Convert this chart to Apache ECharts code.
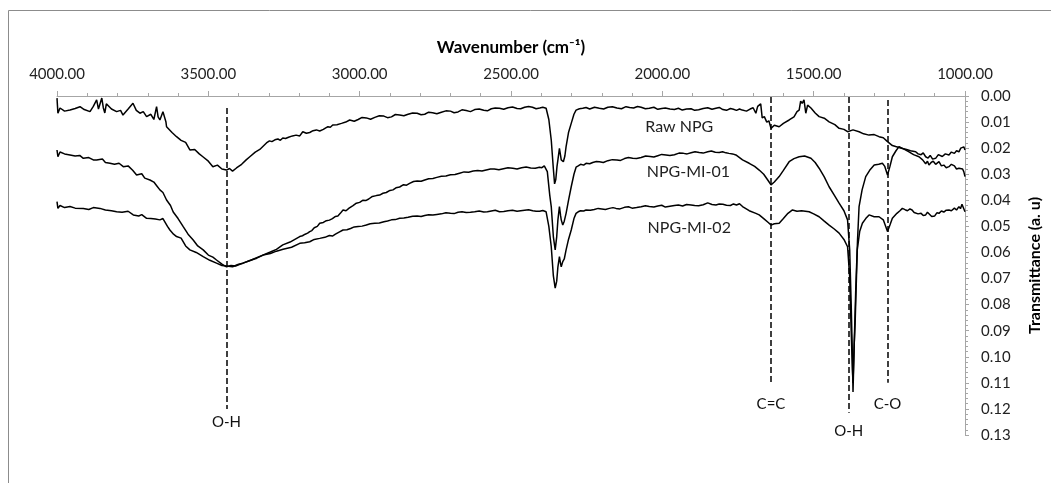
<!DOCTYPE html>
<html>
<head>
<meta charset="utf-8">
<script src="https://cdn.jsdelivr.net/npm/echarts@6/dist/echarts.min.js"></script>
<style>
  html, body { margin: 0; padding: 0; background: #fff; }
  #chart { width: 1051px; height: 483px; }
</style>
</head>
<body>
<div id="chart"></div>
<script>
// FTIR spectra, [wavenumber, transmittance]
var rawNPG = [
  [4000,0.0008],[3997,0.0066],[3990,0.0046],[3975,0.0058],[3957,0.0054],[3940,0.0048],[3924,0.0041],[3910,0.0052],
  [3891,0.0060],[3880,0.0040],[3869,0.0015],[3863,0.0050],[3858,0.0054],[3852,0.0008],[3847,0.0045],[3842,0.0065],
  [3837,0.0030],[3831,0.0027],[3820,0.0050],[3803,0.0060],[3790,0.0055],[3782,0.0073],[3765,0.0050],[3749,0.0028],
  [3738,0.0055],[3726,0.0066],[3715,0.0060],[3704,0.0079],[3690,0.0070],[3680,0.0090],[3671,0.0041],[3666,0.0080],
  [3660,0.0092],[3650,0.0060],[3644,0.0054],[3640,0.0100],[3638,0.0118],[3620,0.0140],[3605,0.0156],[3590,0.0170],
  [3575,0.0178],[3561,0.0207],[3545,0.0205],[3530,0.0222],[3518,0.0233],[3500,0.0250],[3485,0.0271],[3470,0.0265],
  [3455,0.0280],[3440,0.0284],[3430,0.0278],[3420,0.0288],[3407,0.0276],[3390,0.0262],[3375,0.0245],[3363,0.0233],
  [3345,0.0215],[3330,0.0205],[3308,0.0180],[3298,0.0172],[3290,0.0175],[3280,0.0168],[3270,0.0165],[3262,0.0170],
  [3254,0.0161],[3245,0.0163],[3235,0.0158],[3222,0.0153],[3210,0.0150],[3198,0.0153],[3188,0.0137],[3176,0.0143],
  [3165,0.0140],[3154,0.0133],[3143,0.0130],[3132,0.0134],[3120,0.0128],[3112,0.0122],[3105,0.0118],[3097,0.0120],
  [3089,0.0111],[3075,0.0110],[3060,0.0105],[3046,0.0100],[3033,0.0092],[3018,0.0097],[3005,0.0090],[2992,0.0082],
  [2978,0.0084],[2964,0.0089],[2950,0.0082],[2935,0.0076],[2920,0.0077],[2908,0.0083],[2895,0.0080],[2882,0.0071],
  [2868,0.0073],[2854,0.0076],[2840,0.0070],[2825,0.0065],[2810,0.0066],[2797,0.0072],[2785,0.0070],[2772,0.0062],
  [2759,0.0064],[2745,0.0068],[2730,0.0062],[2715,0.0057],[2700,0.0058],[2688,0.0064],[2675,0.0061],[2662,0.0053],
  [2648,0.0056],[2634,0.0060],[2620,0.0052],[2605,0.0050],[2590,0.0055],[2578,0.0057],[2565,0.0049],[2552,0.0046],
  [2538,0.0047],[2524,0.0051],[2510,0.0045],[2495,0.0042],[2480,0.0048],[2468,0.0049],[2455,0.0043],[2442,0.0040],
  [2429,0.0043],[2417,0.0049],[2405,0.0046],[2395,0.0043],[2384,0.0047],
  [2375,0.0090],[2367,0.0169],[2360,0.0280],[2356,0.0337],[2352,0.0320],[2348,0.0270],[2345,0.0245],[2340,0.0201],
  [2336,0.0230],[2334,0.0245],[2327,0.0252],[2322,0.0230],[2318,0.0194],[2310,0.0140],[2301,0.0105],[2292,0.0070],
  [2285,0.0054],[2274,0.0049],[2263,0.0047],[2252,0.0044],[2240,0.0050],[2224,0.0043],[2208,0.0047],[2194,0.0050],
  [2180,0.0043],[2165,0.0041],[2150,0.0046],[2135,0.0049],[2120,0.0041],[2108,0.0044],[2095,0.0046],[2082,0.0040],
  [2070,0.0043],[2056,0.0049],[2043,0.0047],[2028,0.0043],[2015,0.0051],[2002,0.0048],[1990,0.0046],[1975,0.0050],
  [1960,0.0052],[1947,0.0047],[1934,0.0054],[1920,0.0050],[1905,0.0049],[1893,0.0055],[1880,0.0053],[1865,0.0048],
  [1850,0.0045],[1836,0.0051],[1823,0.0047],[1812,0.0044],[1800,0.0052],[1788,0.0055],[1775,0.0048],[1765,0.0051],
  [1755,0.0055],[1745,0.0050],[1736,0.0054],[1722,0.0058],[1710,0.0050],[1700,0.0045],[1691,0.0066],
  [1685,0.0040],[1680,0.0046],[1675,0.0030],[1670,0.0084],[1663,0.0079],[1655,0.0100],[1648,0.0095],[1641,0.0124],
  [1630,0.0112],[1614,0.0118],[1600,0.0105],[1581,0.0092],[1565,0.0080],[1555,0.0060],[1548,0.0054],[1543,0.0020],
  [1538,0.0028],[1532,0.0015],[1526,0.0066],[1520,0.0035],[1509,0.0046],[1495,0.0065],[1482,0.0079],[1465,0.0085],
  [1449,0.0099],[1430,0.0110],[1416,0.0124],[1400,0.0128],[1388,0.0137],[1370,0.0130],[1350,0.0137],[1335,0.0145],
  [1317,0.0150],[1300,0.0148],[1284,0.0156],[1270,0.0160],[1256,0.0175],[1240,0.0190],[1229,0.0194],[1210,0.0200],
  [1196,0.0204],[1180,0.0210],[1163,0.0214],[1155,0.0222],[1145,0.0225],[1138,0.0218],[1130,0.0233],[1122,0.0238],
  [1115,0.0228],[1107,0.0242],[1097,0.0239],[1088,0.0225],[1075,0.0232],[1065,0.0222],[1053,0.0226],[1045,0.0215],
  [1035,0.0220],[1028,0.0210],[1020,0.0214],[1014,0.0200],[1008,0.0205],[1004,0.0195],[1000,0.0207]
];
var npgMI01 = [
  [4000,0.0207],[3997,0.0233],[3990,0.0215],[3975,0.0222],[3957,0.0226],[3940,0.0230],[3925,0.0228],[3913,0.0239],
  [3895,0.0236],[3880,0.0245],[3869,0.0245],[3850,0.0242],[3840,0.0255],[3825,0.0258],[3810,0.0262],[3795,0.0258],
  [3781,0.0271],[3765,0.0268],[3750,0.0285],[3737,0.0303],[3720,0.0298],[3710,0.0315],[3693,0.0322],[3680,0.0330],
  [3670,0.0345],[3660,0.0360],[3650,0.0370],[3638,0.0399],[3625,0.0420],[3616,0.0445],[3600,0.0470],[3583,0.0501],
  [3567,0.0530],[3550,0.0552],[3535,0.0575],[3517,0.0590],[3500,0.0610],[3485,0.0618],[3473,0.0629],[3455,0.0645],
  [3440,0.0655],[3425,0.0650],[3410,0.0652],[3386,0.0641],[3360,0.0630],[3340,0.0620],[3320,0.0610],[3295,0.0598],
  [3275,0.0588],[3254,0.0571],[3230,0.0560],[3198,0.0539],[3189,0.0536],[3180,0.0530],[3172,0.0526],[3165,0.0520],
  [3158,0.0516],[3150,0.0505],[3140,0.0500],[3132,0.0488],[3120,0.0485],[3110,0.0478],[3100,0.0476],[3090,0.0470],
  [3080,0.0462],[3072,0.0460],[3064,0.0450],[3055,0.0437],[3045,0.0440],[3035,0.0430],[3022,0.0420],[3011,0.0411],
  [3000,0.0408],[2990,0.0400],[2980,0.0401],[2970,0.0395],[2958,0.0385],[2945,0.0382],[2934,0.0380],[2923,0.0373],
  [2912,0.0370],[2900,0.0362],[2890,0.0360],[2880,0.0352],[2868,0.0349],[2855,0.0340],[2845,0.0342],[2835,0.0335],
  [2822,0.0328],[2810,0.0326],[2797,0.0327],[2785,0.0322],[2772,0.0317],[2758,0.0316],[2745,0.0312],[2730,0.0308],
  [2715,0.0307],[2700,0.0302],[2685,0.0301],[2670,0.0296],[2655,0.0291],[2640,0.0292],[2625,0.0288],[2610,0.0286],
  [2596,0.0288],[2582,0.0284],[2568,0.0280],[2555,0.0280],[2540,0.0283],[2525,0.0279],[2510,0.0275],[2494,0.0277],
  [2480,0.0280],[2465,0.0275],[2450,0.0272],[2435,0.0276],[2420,0.0277],[2406,0.0273],[2398,0.0275],[2390,0.0268],
  [2380,0.0290],[2372,0.0380],[2367,0.0424],[2360,0.0540],[2354,0.0590],[2349,0.0540],[2345,0.0475],[2340,0.0424],
  [2336,0.0460],[2334,0.0475],[2329,0.0495],[2324,0.0480],[2318,0.0450],[2310,0.0400],[2301,0.0348],[2292,0.0300],
  [2285,0.0273],[2278,0.0268],[2270,0.0262],[2260,0.0265],[2252,0.0258],[2240,0.0260],[2230,0.0255],[2218,0.0251],
  [2208,0.0252],[2195,0.0255],[2180,0.0248],[2165,0.0244],[2150,0.0245],[2138,0.0247],[2125,0.0240],[2112,0.0236],
  [2098,0.0239],[2085,0.0240],[2070,0.0236],[2055,0.0230],[2040,0.0232],[2028,0.0234],[2015,0.0229],[2002,0.0224],
  [1988,0.0226],[1975,0.0228],[1960,0.0225],[1945,0.0219],[1930,0.0220],[1918,0.0222],[1905,0.0218],[1892,0.0214],
  [1878,0.0217],[1865,0.0219],[1850,0.0214],[1838,0.0211],[1825,0.0216],[1812,0.0217],[1801,0.0214],[1790,0.0218],
  [1780,0.0220],[1768,0.0222],[1757,0.0226],[1735,0.0245],[1713,0.0258],[1695,0.0270],[1680,0.0284],
  [1665,0.0300],[1650,0.0325],[1641,0.0341],[1630,0.0330],[1614,0.0309],[1600,0.0285],[1581,0.0252],[1565,0.0240],
  [1548,0.0233],[1530,0.0230],[1509,0.0239],[1495,0.0255],[1482,0.0277],[1465,0.0310],[1449,0.0348],[1432,0.0380],
  [1416,0.0411],[1400,0.0440],[1388,0.0475],[1381,0.0590],[1376,0.0800],[1372,0.1000],[1370,0.1135],[1366,0.0950],
  [1361,0.0744],[1355,0.0550],[1350,0.0424],[1340,0.0360],[1328,0.0309],[1315,0.0285],[1300,0.0265],[1285,0.0262],
  [1273,0.0258],[1265,0.0270],[1256,0.0303],[1248,0.0270],[1240,0.0233],[1228,0.0210],[1218,0.0194],[1200,0.0205],
  [1185,0.0214],[1170,0.0225],[1152,0.0233],[1140,0.0245],[1130,0.0260],[1124,0.0250],[1119,0.0265],[1112,0.0255],
  [1105,0.0250],[1097,0.0262],[1086,0.0252],[1078,0.0268],[1070,0.0265],[1062,0.0275],[1053,0.0271],[1045,0.0262],
  [1035,0.0268],[1028,0.0280],[1020,0.0277],[1014,0.0270],[1008,0.0280],[1004,0.0290],[1000,0.0309]
];
var npgMI02 = [
  [4000,0.0405],[3997,0.0431],[3990,0.0420],[3975,0.0428],[3957,0.0424],[3940,0.0430],[3913,0.0431],[3895,0.0435],
  [3880,0.0428],[3858,0.0431],[3840,0.0437],[3820,0.0440],[3803,0.0444],[3785,0.0446],[3765,0.0442],[3748,0.0456],
  [3730,0.0460],[3720,0.0455],[3704,0.0469],[3690,0.0470],[3675,0.0472],[3660,0.0475],[3650,0.0470],[3644,0.0463],
  [3635,0.0500],[3627,0.0514],[3615,0.0530],[3605,0.0539],[3590,0.0545],[3575,0.0575],[3561,0.0590],[3540,0.0600],
  [3517,0.0616],[3495,0.0630],[3473,0.0641],[3455,0.0650],[3440,0.0652],[3420,0.0655],[3400,0.0645],[3385,0.0641],
  [3360,0.0630],[3340,0.0622],[3319,0.0610],[3295,0.0604],[3275,0.0595],[3253,0.0588],[3225,0.0580],[3198,0.0565],
  [3182,0.0563],[3165,0.0559],[3150,0.0550],[3132,0.0546],[3115,0.0542],[3100,0.0535],[3090,0.0537],[3080,0.0530],
  [3068,0.0522],[3055,0.0514],[3042,0.0513],[3030,0.0508],[3018,0.0502],[3005,0.0500],[2992,0.0499],[2978,0.0495],
  [2965,0.0490],[2950,0.0488],[2935,0.0487],[2920,0.0482],[2908,0.0479],[2895,0.0475],[2882,0.0474],[2868,0.0469],
  [2854,0.0468],[2840,0.0465],[2825,0.0461],[2810,0.0460],[2797,0.0462],[2785,0.0458],[2772,0.0455],[2758,0.0456],
  [2745,0.0454],[2730,0.0452],[2715,0.0448],[2700,0.0450],[2688,0.0451],[2675,0.0446],[2662,0.0444],[2648,0.0447],
  [2634,0.0446],[2620,0.0444],[2605,0.0441],[2590,0.0445],[2578,0.0444],[2565,0.0441],[2552,0.0438],[2538,0.0444],
  [2524,0.0443],[2510,0.0440],[2495,0.0438],[2480,0.0442],[2468,0.0440],[2455,0.0438],[2442,0.0436],[2428,0.0440],
  [2417,0.0442],[2405,0.0442],[2395,0.0439],[2384,0.0444],[2375,0.0500],[2367,0.0578],
  [2360,0.0690],[2354,0.0737],[2349,0.0710],[2345,0.0655],[2340,0.0616],[2336,0.0645],[2334,0.0655],[2329,0.0635],
  [2324,0.0625],[2318,0.0590],[2310,0.0550],[2301,0.0514],[2292,0.0470],[2285,0.0450],[2278,0.0444],[2270,0.0440],
  [2260,0.0441],[2252,0.0437],[2238,0.0438],[2225,0.0435],[2212,0.0431],[2200,0.0433],[2188,0.0435],[2175,0.0431],
  [2163,0.0428],[2153,0.0431],[2140,0.0433],[2125,0.0427],[2112,0.0425],[2100,0.0430],[2085,0.0428],[2070,0.0425],
  [2056,0.0421],[2043,0.0424],[2028,0.0426],[2015,0.0422],[2002,0.0419],[1990,0.0426],[1975,0.0423],[1960,0.0420],
  [1947,0.0418],[1933,0.0422],[1920,0.0416],[1905,0.0418],[1893,0.0420],[1880,0.0421],[1865,0.0417],[1850,0.0410],
  [1836,0.0416],[1823,0.0418],[1812,0.0414],[1800,0.0415],[1788,0.0419],[1775,0.0420],[1765,0.0414],[1755,0.0418],
  [1745,0.0413],[1735,0.0424],[1713,0.0440],[1691,0.0450],[1680,0.0456],[1665,0.0470],
  [1650,0.0485],[1641,0.0495],[1630,0.0490],[1614,0.0488],[1600,0.0470],[1585,0.0450],[1570,0.0437],[1555,0.0442],
  [1540,0.0440],[1515,0.0444],[1500,0.0452],[1482,0.0463],[1465,0.0480],[1449,0.0495],[1432,0.0510],[1416,0.0526],
  [1400,0.0550],[1388,0.0578],[1381,0.0693],[1376,0.0900],[1372,0.1050],[1370,0.1100],[1366,0.0950],[1363,0.0870],
  [1356,0.0590],[1348,0.0520],[1339,0.0488],[1328,0.0470],[1317,0.0456],[1300,0.0463],[1284,0.0463],[1270,0.0475],
  [1256,0.0520],[1248,0.0495],[1240,0.0469],[1225,0.0450],[1215,0.0440],[1207,0.0431],[1198,0.0436],[1190,0.0440],
  [1182,0.0433],[1175,0.0437],[1168,0.0447],[1163,0.0444],[1155,0.0452],[1145,0.0450],[1138,0.0458],[1130,0.0456],
  [1124,0.0446],[1119,0.0450],[1110,0.0462],[1100,0.0460],[1093,0.0448],[1086,0.0450],[1078,0.0441],[1070,0.0445],
  [1062,0.0438],[1053,0.0437],[1045,0.0440],[1035,0.0430],[1028,0.0437],[1020,0.0424],[1015,0.0432],[1010,0.0415],
  [1005,0.0420],[1000,0.0444]
];

// peak annotations (dashed lines)
var peakNames = ['O-H', 'C=C', 'O-H', 'C-O'];
var peakWavenumbers = [3440, 1641, 1384, 1256];
var peakLineTop = [0.0046, 0.0004, 0.0004, 0.0015];
var peakLineBottom = [0.1200, 0.1100, 0.1215, 0.1100];
var peakLabelGap = [6, 14, 11, 14];

// curve names
var seriesNames = ['Raw NPG', 'NPG-MI-01', 'NPG-MI-02'];
var nameLabelX = [1944, 1914, 1911];
var nameLabelY = [0.0118, 0.0290, 0.0507];

var fontFamily = 'Lato, "Noto Sans", sans-serif';
var axisGray = '#a6a6a6';

var chart = echarts.init(document.getElementById('chart'));

var peakLines = [];
for (var i = 0; i < peakNames.length; i++) {
  peakLines.push([
    { coord: [peakWavenumbers[i], peakLineTop[i]] },
    { coord: [peakWavenumbers[i], peakLineBottom[i]],
      label: { show: true, position: 'end', formatter: peakNames[i], distance: peakLabelGap[i],
        color: '#111', fontSize: 15, fontFamily: fontFamily } }
  ]);
}

function makeSeries (idx, data) {
  var s = {
    name: seriesNames[idx],
    type: 'line',
    data: data,
    showSymbol: false,
    symbol: 'none',
    smooth: false,
    animation: false,
    lineStyle: { color: '#000', width: 1.5 },
    markPoint: {
      symbol: 'circle',
      symbolSize: 0,
      silent: true,
      data: [{ coord: [nameLabelX[idx], nameLabelY[idx]] }],
      label: { show: true, position: 'inside', formatter: seriesNames[idx], color: '#222',
        fontSize: 16, fontFamily: fontFamily }
    }
  };
  if (idx == 0) {
    s.markLine = {
      silent: true,
      symbol: ['none', 'none'],
      animation: false,
      lineStyle: { color: '#000', width: 1.5, type: [6, 3] },
      data: peakLines
    };
  }
  return s;
}

chart.setOption({
  backgroundColor: '#fff',
  animation: false,
  textStyle: { fontFamily: fontFamily },
  graphic: [{
    type: 'rect',
    shape: { x: 8.5, y: 10.5, width: 1100, height: 600 },
    style: { fill: null, stroke: '#8c8c8c', lineWidth: 1 },
    silent: true
  }],
  grid: { left: 57, right: 84, top: 96, bottom: 48 },
  xAxis: {
    type: 'value',
    position: 'top',
    inverse: true,
    min: 1000,
    max: 4000,
    interval: 500,
    name: 'Wavenumber (cm⁻¹)',
    nameLocation: 'middle',
    nameGap: 40,
    nameTextStyle: { fontWeight: 'bold', fontSize: 17, color: '#000', fontFamily: fontFamily },
    axisLine: { show: true, lineStyle: { color: axisGray, width: 1 } },
    axisTick: { show: true, inside: false, length: 5, lineStyle: { color: axisGray } },
    minorTick: { show: true, splitNumber: 5, length: 3, lineStyle: { color: axisGray } },
    axisLabel: { margin: 14, fontSize: 15, color: '#222', fontFamily: fontFamily,
      formatter: function (v) { return v.toFixed(2); } },
    splitLine: { show: false }
  },
  yAxis: {
    type: 'value',
    position: 'right',
    inverse: true,
    min: 0,
    max: 0.13,
    interval: 0.01,
    name: 'Transmittance (a. u)',
    nameLocation: 'middle',
    nameRotate: 90,
    nameGap: 62,
    nameTextStyle: { fontWeight: 'bold', fontSize: 16, color: '#000', fontFamily: fontFamily },
    axisLine: { show: true, lineStyle: { color: axisGray, width: 1 } },
    axisTick: { show: true, length: 4, lineStyle: { color: axisGray } },
    minorTick: { show: true, splitNumber: 5, length: 3, lineStyle: { color: axisGray } },
    axisLabel: { margin: 16, fontSize: 15, color: '#222', fontFamily: fontFamily,
      formatter: function (v) { return v.toFixed(2); } },
    splitLine: { show: false }
  },
  series: [
    makeSeries(0, rawNPG),
    makeSeries(1, npgMI01),
    makeSeries(2, npgMI02)
  ]
});
</script>
</body>
</html>
